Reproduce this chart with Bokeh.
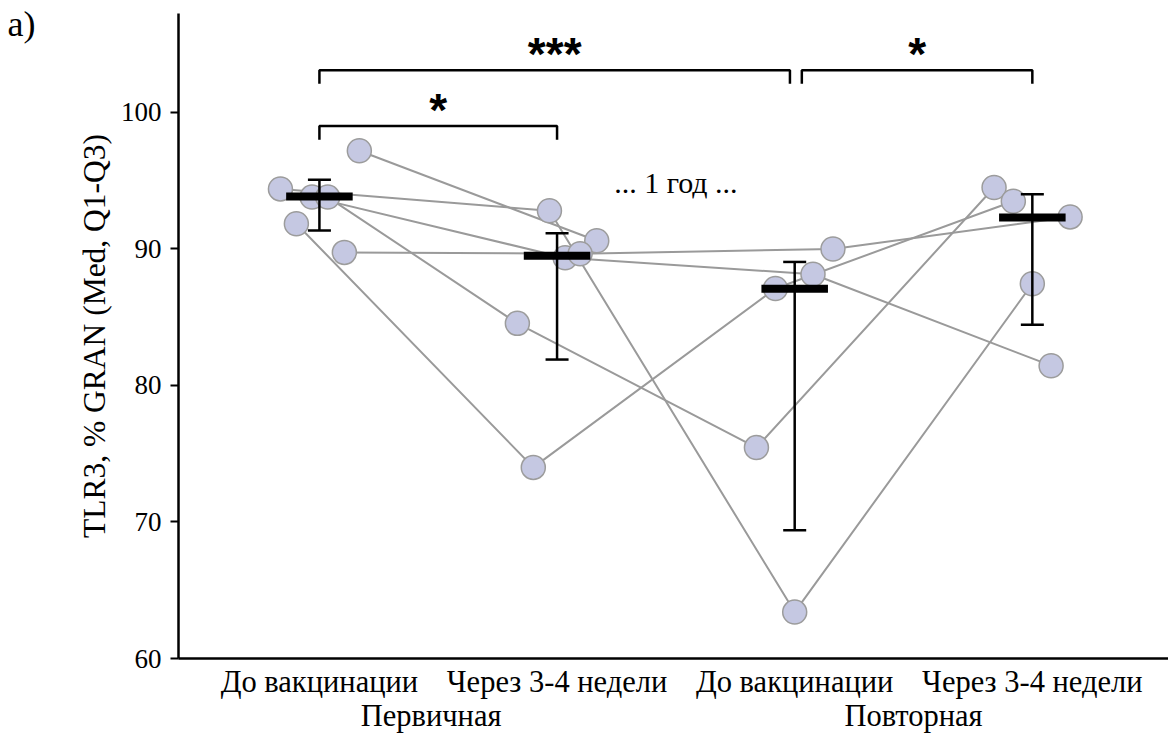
import math
from bokeh.plotting import figure
from bokeh.models import (Range1d, LinearAxis, FixedTicker, Whisker, TeeHead,
                          ColumnDataSource, BoxAnnotation)
from bokeh.core.properties import value
from bokeh.embed import file_html
from bokeh.resources import INLINE

# ---------------- data ----------------
x_labels = ["До вакцинации", "Через 3-4 недели", "До вакцинации", "Через 3-4 недели"]
group_labels = ["Первичная", "Повторная"]
y_ticks = [60, 70, 80, 90, 100]
y_title = "TLR3, % GRAN (Med, Q1-Q3)"

nan = float("nan")
# individual subjects across the 4 time points
subj_A = [94.4, 92.8, 63.4, 87.45]
subj_B = [93.8, 89.35, 88.15, 81.45]
subj_C = [93.8, 84.55, 75.45, 94.5]
subj_D = [97.2, 90.6, nan, nan]
subj_E = [91.85, 74.0, 87.1, 93.5]
subj_F = [89.75, 89.65, 90.0, 92.35]
subjects = [subj_A, subj_B, subj_C, subj_D, subj_E, subj_F]

# horizontal jitter of each subject's dot (category units)
jitter_A = [-0.164, -0.032, 0.0, 0.0]
jitter_B = [-0.031, 0.034, 0.077, 0.079]
jitter_C = [0.035, -0.167, -0.161, -0.161]
jitter_D = [0.168, 0.167, nan, nan]
jitter_E = [-0.097, -0.100, -0.081, -0.080]
jitter_F = [0.105, 0.097, 0.161, 0.159]
jitters = [jitter_A, jitter_B, jitter_C, jitter_D, jitter_E, jitter_F]

medians = [93.85, 89.5, 87.08, 92.3]
q1 = [91.35, 81.9, 69.4, 84.45]
q3 = [95.07, 91.15, 89.05, 94.0]

# significance brackets
br_from = [0, 0, 2.03]
br_to = [1, 1.98, 3]
br_y = [99.0, 103.1, 103.1]
br_text = ["*", "***", "*"]

note_text = "... 1 год ..."
note_x = 1.5
note_y = 94.9

panel_text = "a)"
panel_y = 106.5

# ---------------- figure ----------------
cats = list(range(len(x_labels)))
SERIF = "Liberation Serif"
X_END = 3.573

p = figure(width=1168, height=740,
           x_range=Range1d(-0.593, X_END), y_range=Range1d(60, 107.25),
           output_backend="svg", toolbar_location=None,
           x_axis_type=None, y_axis_type=None,
           min_border_left=178, min_border_top=13,
           min_border_bottom=82, min_border_right=0)
p.outline_line_color = None
p.outline_line_alpha = 0
p.xgrid.visible = False
p.ygrid.visible = False
p.background_fill_color = "white"
p.border_fill_color = "white"

yax = LinearAxis(ticker=FixedTicker(ticks=y_ticks))
yax.axis_label = y_title
yax.axis_label_text_font = SERIF
yax.axis_label_text_font_size = "31.5px"
yax.axis_label_text_font_style = "normal"
yax.axis_label_text_color = "black"
yax.axis_label_standoff = 6
yax.major_label_text_font = SERIF
yax.major_label_text_font_size = "27px"
yax.major_label_text_color = "black"
yax.major_label_standoff = 9
yax.axis_line_width = 2.5
yax.axis_line_color = "black"
yax.major_tick_line_width = 2
yax.major_tick_line_color = "black"
yax.major_tick_out = 8
yax.major_tick_in = 0
yax.minor_tick_line_color = None
p.add_layout(yax, "left")

# panel letter "a)" as a bare outer axis label
pax = LinearAxis(ticker=FixedTicker(ticks=[panel_y]),
                 major_label_overrides={panel_y: panel_text})
pax.major_label_text_font = SERIF
pax.major_label_text_font_size = "36px"
pax.major_label_text_color = "black"
pax.major_label_standoff = 32
pax.axis_line_color = None
pax.major_tick_line_color = None
pax.minor_tick_line_color = None
p.add_layout(pax, "left")

xax = LinearAxis(ticker=FixedTicker(ticks=cats),
                 major_label_overrides={c: lab for c, lab in zip(cats, x_labels)})
xax.major_label_text_font = SERIF
xax.major_label_text_font_size = "30.5px"
xax.major_label_text_color = "black"
xax.major_label_standoff = 0
xax.axis_line_width = 2.5
xax.axis_line_color = "black"
xax.major_tick_line_color = None
xax.minor_tick_line_color = None
p.add_layout(xax, "below")

group_pos = [0.47, 2.5]
xax2 = LinearAxis(ticker=FixedTicker(ticks=group_pos),
                  major_label_overrides={g: lab for g, lab in zip(group_pos, group_labels)})
xax2.major_label_text_font = SERIF
xax2.major_label_text_font_size = "30.5px"
xax2.major_label_text_color = "black"
xax2.major_label_standoff = -9
xax2.axis_line_color = None
xax2.major_tick_line_color = None
xax2.minor_tick_line_color = None
p.add_layout(xax2, "below")

# subject lines and dots
xs, ys = [], []
pts_x, pts_y = [], []
for vals, jit in zip(subjects, jitters):
    lx, ly = [], []
    for c, v, j in zip(cats, vals, jit):
        if not math.isnan(v):
            lx.append(c + j)
            ly.append(v)
    xs.append(lx)
    ys.append(ly)
    pts_x += lx
    pts_y += ly

p.multi_line(xs, ys, line_color="#9a9a9a", line_width=2)
p.scatter(pts_x, pts_y, marker="circle", size=24,
          fill_color="#c5c8e2", line_color="#9c9c9c", line_width=1.5)

# Q1-Q3 whiskers
wsrc = ColumnDataSource(dict(x=cats, lower=q1, upper=q3))
wh = Whisker(base="x", lower="lower", upper="upper", source=wsrc,
             line_color="black", line_width=2.5, level="annotation",
             upper_head=TeeHead(size=23, line_color="black", line_width=2.5),
             lower_head=TeeHead(size=23, line_color="black", line_width=2.5))
p.add_layout(wh)

# median bars
p.rect(cats, medians, width=0.28, height=8, height_units="screen",
       fill_color="black", line_color=None)

# significance brackets
bxs, bys = [], []
for a, b, y in zip(br_from, br_to, br_y):
    bxs.append([a, a, b, b])
    bys.append([y - 1.0, y, y, y - 1.0])
p.multi_line(bxs, bys, line_color="black", line_width=2.5)
p.text([(a + b) / 2 for a, b in zip(br_from, br_to)], [y + 1.2 for y in br_y],
       text=br_text, text_align="center", text_baseline="alphabetic",
       text_font=value("Liberation Sans"), text_font_style="bold",
       text_font_size="46px", text_color="black")

# note between the two vaccinations
p.text([note_x], [note_y], text=[note_text], text_align="center",
       text_baseline="middle", text_font=value(SERIF),
       text_font_size="30px", text_color="black")

# mask the hairline at the right frame edge
p.add_layout(BoxAnnotation(left=X_END - 0.03, bottom=60.25, fill_color="white",
                           fill_alpha=1.0, line_color=None, level="overlay"))

open("out.html", "w").write(file_html(p, INLINE))
